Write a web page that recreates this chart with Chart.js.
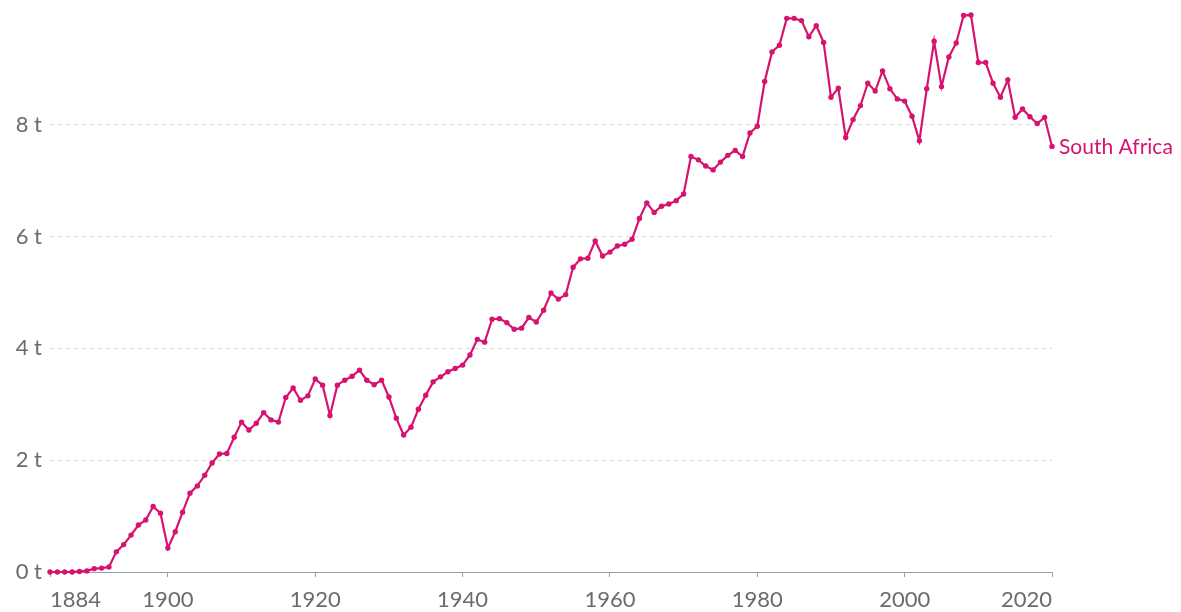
<!DOCTYPE html>
<html>
<head>
<meta charset="utf-8">
<script src="https://cdn.jsdelivr.net/npm/chart.js@4.4.1/dist/chart.umd.min.js"></script>
<style>
  html, body { margin: 0; padding: 0; background: #fff; }
  #wrap { width: 1181px; height: 612px; position: relative; }
</style>
</head>
<body>
<div id="wrap"><canvas id="c" width="1181" height="612"></canvas></div>
<script>
const seriesName = "South Africa";
const years = [
  1884,1885,1886,1887,1888,1889,1890,1891,1892,1893,1894,1895,1896,1897,1898,1899,
  1900,1901,1902,1903,1904,1905,1906,1907,1908,1909,1910,1911,1912,1913,1914,1915,1916,1917,1918,1919,
  1920,1921,1922,1923,1924,1925,1926,1927,1928,1929,1930,1931,1932,1933,1934,1935,1936,1937,1938,1939,
  1940,1941,1942,1943,1944,1945,1946,1947,1948,1949,1950,1951,1952,1953,1954,1955,1956,1957,1958,1959,
  1960,1961,1962,1963,1964,1965,1966,1967,1968,1969,1970,1971,1972,1973,1974,1975,1976,1977,1978,1979,
  1980,1981,1982,1983,1984,1985,1986,1987,1988,1989,1990,1991,1992,1993,1994,1995,1996,1997,1998,1999,
  2000,2001,2002,2003,2004,2005,2006,2007,2008,2009,2010,2011,2012,2013,2014,2015,2016,2017,2018,2019,
  2020
];
const values = [
  0.00,0.00,0.00,0.00,0.01,0.02,0.06,0.07,0.09,0.36,0.49,0.66,0.84,0.93,1.17,1.05,
  0.43,0.72,1.07,1.41,1.54,1.73,1.95,2.11,2.12,2.41,2.68,2.54,2.66,2.85,2.72,2.68,3.12,3.29,3.07,3.15,
  3.45,3.34,2.80,3.34,3.43,3.50,3.61,3.43,3.35,3.43,3.13,2.75,2.45,2.59,2.91,3.16,3.40,3.49,3.58,3.64,
  3.70,3.88,4.16,4.11,4.52,4.53,4.46,4.34,4.36,4.55,4.47,4.68,4.99,4.88,4.96,5.45,5.60,5.61,5.92,5.65,
  5.72,5.83,5.86,5.95,6.32,6.60,6.43,6.54,6.58,6.64,6.76,7.43,7.37,7.26,7.19,7.33,7.45,7.54,7.43,7.85,
  7.97,8.77,9.30,9.42,9.90,9.90,9.86,9.57,9.77,9.47,8.49,8.65,7.77,8.09,8.34,8.74,8.60,8.96,8.64,8.46,
  8.42,8.15,7.71,8.64,9.49,8.68,9.21,9.46,9.95,9.96,9.11,9.11,8.74,8.49,8.80,8.13,8.28,8.14,8.02,8.13,
  7.61
];
const xTicks = [1884, 1900, 1920, 1940, 1960, 1980, 2000, 2020];
const yTicks = [0, 2, 4, 6, 8];
const yUnit = " t";

const lineColor = "#d7126f";
const textColor = "#6b6b6b";
const fontFamily = "Lato, 'Open Sans', sans-serif";

const endLabel = {
  id: 'endLabel',
  afterDatasetsDraw(chart) {
    const meta = chart.getDatasetMeta(0);
    const pt = meta.data[meta.data.length - 1];
    const ctx = chart.ctx;
    ctx.save();
    ctx.font = "21px " + fontFamily;
    ctx.fillStyle = lineColor;
    ctx.textAlign = "left";
    ctx.textBaseline = "middle";
    ctx.fillText(seriesName, pt.x + 7, pt.y + 1);
    ctx.restore();
  }
};

new Chart(document.getElementById('c'), {
  type: 'line',
  data: {
    datasets: [{
      label: seriesName,
      data: years.map((y, i) => ({ x: y, y: values[i] })),
      borderColor: lineColor,
      backgroundColor: lineColor,
      borderWidth: 2.2,
      pointRadius: 2.7,
      pointBorderWidth: 0,
      pointBackgroundColor: lineColor,
      tension: 0,
      clip: false
    }]
  },
  options: {
    responsive: false,
    animation: false,
    events: [],
    layout: { padding: { top: 15, right: 129, left: 0, bottom: 0 } },
    plugins: { legend: { display: false }, tooltip: { enabled: false } },
    scales: {
      x: {
        type: 'linear',
        min: years[0],
        max: years[years.length - 1],
        afterBuildTicks(scale) { scale.ticks = xTicks.map(v => ({ value: v })); },
        afterFit(scale) { scale.height = 40; scale.paddingLeft = 0; scale.paddingRight = 0; },
        border: { display: true, color: '#a0a0a0', width: 1 },
        grid: { display: true, drawOnChartArea: false, drawTicks: true, tickLength: 5, color: '#a0a0a0' },
        ticks: {
          align: 'inner',
          maxRotation: 0,
          autoSkip: false,
          padding: 10,
          color: textColor,
          font: { family: fontFamily, size: 22 },
          callback: v => String(v)
        }
      },
      y: {
        type: 'linear',
        min: 0,
        max: Math.max(...values),
        afterBuildTicks(scale) { scale.ticks = yTicks.map(v => ({ value: v })); },
        afterFit(scale) { scale.width = 50; scale.paddingTop = 0; scale.paddingBottom = 0; },
        grid: {
          drawTicks: false,
          color: ctx => ctx.tick && ctx.tick.value === 0 ? 'rgba(0,0,0,0)' : '#d9d9d9',
          lineWidth: 1
        },
        border: { display: false, dash: [4, 4] },
        ticks: {
          padding: 8,
          color: textColor,
          font: { family: fontFamily, size: 22 },
          callback: v => v + yUnit
        }
      }
    }
  },
  plugins: [endLabel]
});
</script>
</body>
</html>
